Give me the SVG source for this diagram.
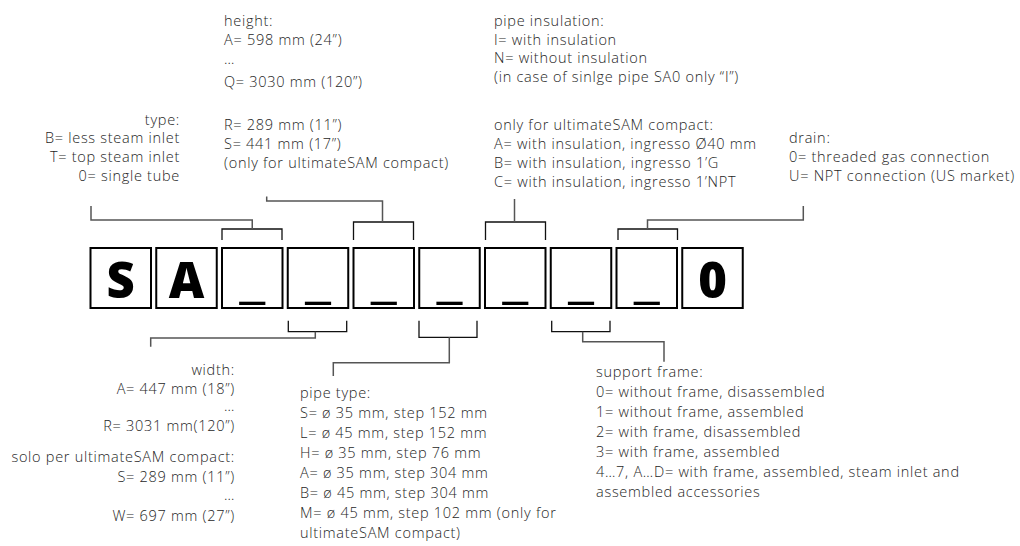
<svg xmlns="http://www.w3.org/2000/svg" width="1020" height="546" viewBox="0 0 1020 546">
<style>
.box{fill:#fff;stroke:#000;stroke-width:2}
.big{font-family:"Open Sans","DejaVu Sans",sans-serif;font-weight:800;font-size:49px;fill:#000;text-anchor:middle}
.us{font-family:"Open Sans","DejaVu Sans",sans-serif;font-weight:700;font-size:48px;fill:#000;text-anchor:middle}
.t{font-family:"Open Sans","DejaVu Sans",sans-serif;font-weight:300;font-size:14.5px;fill:#1e1e1e;letter-spacing:0.72px}
.end{text-anchor:end}
.br{fill:none;stroke:#111;stroke-width:1.3}
.ld{fill:none;stroke:#555;stroke-width:1.5}
</style>
<rect width="1020" height="546" fill="#fff"/>
<g id="connectors">
<path class="br" d="M222,240V229H282V240"/>
<path class="ld" d="M252.25,229V220H91V206"/>
<path class="br" d="M353.5,240V222H413.5V240"/>
<path class="ld" d="M382.5,222V201H266.7V196.5"/>
<path class="br" d="M485.5,240V222H545.5V240"/>
<path class="ld" d="M514.5,222V199"/>
<path class="br" d="M618,240V229H677.5V240"/>
<path class="ld" d="M647.5,229V220H803.3V206"/>
<path class="br" d="M288.3,320.7V331.7H346.7V320.7"/>
<path class="ld" d="M315.3,331.7V338H150.7V346.7"/>
<path class="br" d="M419,320.7V337.3H477V320.7"/>
<path class="ld" d="M449.3,337.3V362.7H333.3V376"/>
<path class="br" d="M551.7,320.7V331.7H610V320.7"/>
<path class="ld" d="M582.7,331.7V341.7H664V361.7"/>
</g>
<g id="box-S"><rect class="box" x="90.5" y="248" width="60.5" height="60"/><text class="big" x="120.75" y="298">S</text></g>
<g id="box-A"><rect class="box" x="156.25" y="248" width="60.5" height="60"/><text class="big" x="186.5" y="298">A</text></g>
<g id="box-type"><rect class="box" x="222" y="248" width="60.5" height="60"/><text class="us" x="252.25" y="297" textLength="26" lengthAdjust="spacingAndGlyphs">_</text></g>
<g id="box-width"><rect class="box" x="287.75" y="248" width="60.5" height="60"/><text class="us" x="318" y="297" textLength="26" lengthAdjust="spacingAndGlyphs">_</text></g>
<g id="box-height"><rect class="box" x="353.5" y="248" width="60.5" height="60"/><text class="us" x="383.75" y="297" textLength="26" lengthAdjust="spacingAndGlyphs">_</text></g>
<g id="box-pipetype"><rect class="box" x="419.25" y="248" width="60.5" height="60"/><text class="us" x="449.5" y="297" textLength="26" lengthAdjust="spacingAndGlyphs">_</text></g>
<g id="box-insulation"><rect class="box" x="485" y="248" width="60.5" height="60"/><text class="us" x="515.25" y="297" textLength="26" lengthAdjust="spacingAndGlyphs">_</text></g>
<g id="box-frame"><rect class="box" x="550.75" y="248" width="60.5" height="60"/><text class="us" x="581" y="297" textLength="26" lengthAdjust="spacingAndGlyphs">_</text></g>
<g id="box-drain"><rect class="box" x="616.5" y="248" width="60.5" height="60"/><text class="us" x="646.75" y="297" textLength="26" lengthAdjust="spacingAndGlyphs">_</text></g>
<g id="box-0"><rect class="box" x="682.25" y="248" width="60.5" height="60"/><text class="big" x="712.5" y="298">0</text></g>
<g id="label-type">
<text class="t end" x="180" y="124.5">type:</text>
<text class="t end" x="180" y="143">B= less steam inlet</text>
<text class="t end" x="180" y="162">T= top steam inlet</text>
<text class="t end" x="180" y="181">0= single tube</text>
</g>
<g id="label-height">
<text class="t" x="224" y="25.5">height:</text>
<text class="t" x="224" y="44.5">A= 598 mm (24”)</text>
<text class="t" x="224" y="64">…</text>
<text class="t" x="224" y="87">Q= 3030 mm (120”)</text>
<text class="t" x="224" y="130">R= 289 mm (11”)</text>
<text class="t" x="224" y="149">S= 441 mm (17”)</text>
<text class="t" x="224" y="168">(only for ultimateSAM compact)</text>
</g>
<g id="label-insulation">
<text class="t" x="494" y="25.5">pipe insulation:</text>
<text class="t" x="494" y="44.5">I= with insulation</text>
<text class="t" x="494" y="63">N= without insulation</text>
<text class="t" x="494" y="82">(in case of sinlge pipe SA0 only “I”)</text>
<text class="t" x="494" y="130">only for ultimateSAM compact:</text>
<text class="t" x="494" y="149">A= with insulation, ingresso Ø40 mm</text>
<text class="t" x="494" y="168">B= with insulation, ingresso 1’G</text>
<text class="t" x="494" y="187">C= with insulation, ingresso 1’NPT</text>
</g>
<g id="label-drain">
<text class="t" x="789" y="143">drain:</text>
<text class="t" x="789" y="162">0= threaded gas connection</text>
<text class="t" x="789" y="181">U= NPT connection (US market)</text>
</g>
<g id="label-width">
<text class="t end" x="235" y="375">width:</text>
<text class="t end" x="235" y="394">A= 447 mm (18”)</text>
<text class="t end" x="235" y="410.5">…</text>
<text class="t end" x="235" y="431">R= 3031 mm(120”)</text>
<text class="t end" x="235" y="462">solo per ultimateSAM compact:</text>
<text class="t end" x="235" y="482">S= 289 mm (11”)</text>
<text class="t end" x="235" y="499.5">…</text>
<text class="t end" x="235" y="521">W= 697 mm (27”)</text>
</g>
<g id="label-pipetype">
<text class="t" x="300" y="398">pipe type:</text>
<text class="t" x="300" y="418">S= ø 35 mm, step 152 mm</text>
<text class="t" x="300" y="438">L= ø 45 mm, step 152 mm</text>
<text class="t" x="300" y="458">H= ø 35 mm, step 76 mm</text>
<text class="t" x="300" y="478">A= ø 35 mm, step 304 mm</text>
<text class="t" x="300" y="498">B= ø 45 mm, step 304 mm</text>
<text class="t" x="300" y="518">M= ø 45 mm, step 102 mm (only for</text>
<text class="t" x="300" y="538">ultimateSAM compact)</text>
</g>
<g id="label-frame">
<text class="t" x="596" y="377">support frame:</text>
<text class="t" x="596" y="397">0= without frame, disassembled</text>
<text class="t" x="596" y="417">1= without frame, assembled</text>
<text class="t" x="596" y="437">2= with frame, disassembled</text>
<text class="t" x="596" y="457">3= with frame, assembled</text>
<text class="t" x="596" y="477">4…7, A…D= with frame, assembled, steam inlet and</text>
<text class="t" x="596" y="497">assembled accessories</text>
</g>
</svg>
